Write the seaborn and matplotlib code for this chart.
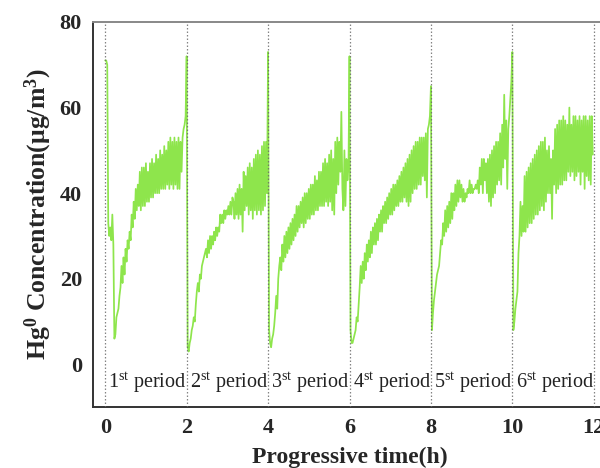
import numpy as np
import pandas as pd
import matplotlib
matplotlib.use("Agg")
import matplotlib.pyplot as plt
import seaborn as sns

# Hg0 concentration readings, one list per 2-h adsorption period,
# sampled every 0.025 h from the start of each period.
period_1 = [71, 71, 70, 33, 30, 32, 29, 35, 28, 6, 7, 11, 12, 13, 16, 18, 23, 19, 25, 21,
            27, 24, 29, 27, 31, 29, 35, 32, 38, 34, 41, 36, 42, 37, 45, 36, 46, 37, 46, 37,
            47, 38, 45, 38, 47, 39, 48, 39, 47, 40, 49, 40, 48, 40, 50, 41, 49, 41, 51, 41,
            50, 42, 52, 41, 53, 42, 52, 41, 53, 42, 52, 41, 53, 41, 52, 45, 53, 55, 56, 58]
period_2 = [72, 4, 3, 5, 6, 8, 9, 11, 10, 14, 17, 19, 17, 21, 20, 23, 24, 25, 26, 27,
            25, 29, 26, 30, 27, 30, 28, 31, 29, 32, 30, 32, 31, 35, 33, 35, 33, 36, 34, 36,
            35, 37, 35, 38, 35, 39, 38, 34, 40, 35, 41, 34, 42, 35, 41, 31, 45, 36, 44, 37,
            46, 35, 47, 36, 46, 34, 48, 36, 49, 35, 50, 36, 49, 35, 51, 36, 52, 37, 52, 40]
period_3 = [73, 8, 5, 4, 6, 7, 9, 12, 16, 13, 20, 23, 25, 22, 28, 24, 30, 25, 31, 26,
            32, 27, 33, 28, 34, 29, 35, 30, 37, 31, 37, 32, 38, 33, 39, 32, 40, 33, 40, 34,
            41, 34, 42, 35, 42, 35, 44, 36, 43, 36, 45, 37, 45, 37, 47, 37, 48, 38, 47, 37,
            49, 38, 50, 36, 48, 35, 52, 40, 53, 42, 52, 45, 59, 41, 36, 50, 37, 48, 43, 46]
period_4 = [72, 8, 5, 5, 6, 7, 8, 11, 10, 14, 18, 23, 19, 24, 20, 26, 22, 28, 24, 29,
            25, 31, 26, 32, 28, 33, 28, 34, 29, 35, 31, 36, 31, 37, 33, 38, 33, 39, 34, 40,
            35, 41, 35, 42, 36, 42, 37, 43, 37, 44, 38, 45, 38, 46, 39, 47, 38, 48, 37, 49,
            38, 50, 40, 51, 41, 52, 41, 52, 42, 53, 42, 53, 44, 53, 43, 54, 39, 55, 56, 58]
period_5 = [65, 8, 12, 15, 17, 19, 21, 22, 23, 26, 29, 28, 33, 30, 36, 31, 37, 32, 38, 33,
            40, 34, 40, 36, 42, 37, 43, 38, 43, 39, 42, 38, 41, 38, 40, 39, 41, 40, 43, 40,
            42, 40, 41, 41, 42, 41, 43, 40, 46, 42, 48, 40, 48, 43, 47, 40, 48, 38, 49, 37,
            50, 39, 51, 40, 52, 42, 52, 43, 54, 42, 56, 46, 63, 48, 57, 41, 55, 58, 62, 66]
period_6 = [73, 8, 10, 13, 15, 17, 26, 30, 38, 30, 37, 31, 44, 31, 45, 32, 46, 33, 47, 33,
            48, 34, 49, 35, 50, 35, 51, 36, 52, 37, 52, 36, 53, 38, 50, 40, 51, 40, 48, 34,
            50, 42, 55, 40, 56, 41, 57, 42, 57, 42, 58, 43, 57, 43, 56, 45, 60, 44, 56, 45,
            58, 43, 58, 44, 57, 45, 58, 42, 57, 45, 58, 41, 58, 44, 57, 43, 58, 42, 58, 49]

periods = [period_1, period_2, period_3, period_4, period_5, period_6]
period_labels = ["1", "2", "3", "4", "5", "6"]
period_starts = [0, 2, 4, 6, 8, 10]
boundaries = [0, 2, 4, 6, 8, 10, 12]
sample_step = 0.025

frames = []
for start, vals in zip(period_starts, periods):
    t = start + sample_step * np.arange(len(vals))
    frames.append(pd.DataFrame({"time": t, "conc": vals}))
df = pd.concat(frames, ignore_index=True)

sns.set_style("white")
plt.rcParams["font.family"] = ["Liberation Serif", "DejaVu Serif"]
plt.rcParams["mathtext.fontset"] = "custom"
plt.rcParams["mathtext.rm"] = "Liberation Serif"
plt.rcParams["mathtext.bf"] = "Liberation Serif:bold"
plt.rcParams["mathtext.it"] = "Liberation Serif:italic"

fig = plt.figure(figsize=(6.0, 4.68), dpi=100)
ax = fig.add_axes([0.155, 0.130, 0.855, 0.823])

sns.lineplot(data=df, x="time", y="conc", ax=ax, color="#8ee54c",
             linewidth=1.25, estimator=None, sort=False, zorder=2)

for b in boundaries:
    ax.axvline(b, color="#666666", linestyle=(0, (1.2, 1.6)), linewidth=0.9,
               alpha=0.8, zorder=3)

for start, lab in zip(period_starts, period_labels):
    ax.text(start + 0.08, -4.3, lab + r"$^{\mathrm{st}}$ period", fontsize=14.5,
            ha="left", va="center", color="#222222")

ax.set_xlim(-0.3, 12.3)
ax.set_ylim(-10, 80)
ax.set_xticks([0, 2, 4, 6, 8, 10, 12])
ax.set_yticks([0, 20, 40, 60, 80])
ax.tick_params(axis="both", direction="out", length=5, width=1.2,
               labelsize=16, color="#333333", pad=3)
for lab in ax.get_xticklabels() + ax.get_yticklabels():
    lab.set_fontweight("bold")

ax.set_xlabel("Progressive time(h)", fontsize=17, fontweight="bold", labelpad=6)
ax.set_ylabel(r"Hg$^{\mathbf{0}}$ Concentration(μg/m$^{\mathbf{3}}$)",
              fontsize=18.5, fontweight="bold", labelpad=4)

for side in ["left", "bottom"]:
    ax.spines[side].set_color("#333333")
    ax.spines[side].set_linewidth(1.4)
ax.spines["top"].set_color("#888888")
ax.spines["top"].set_linewidth(1.4)
ax.spines["right"].set_visible(False)

fig.savefig("out.png", dpi=100)
